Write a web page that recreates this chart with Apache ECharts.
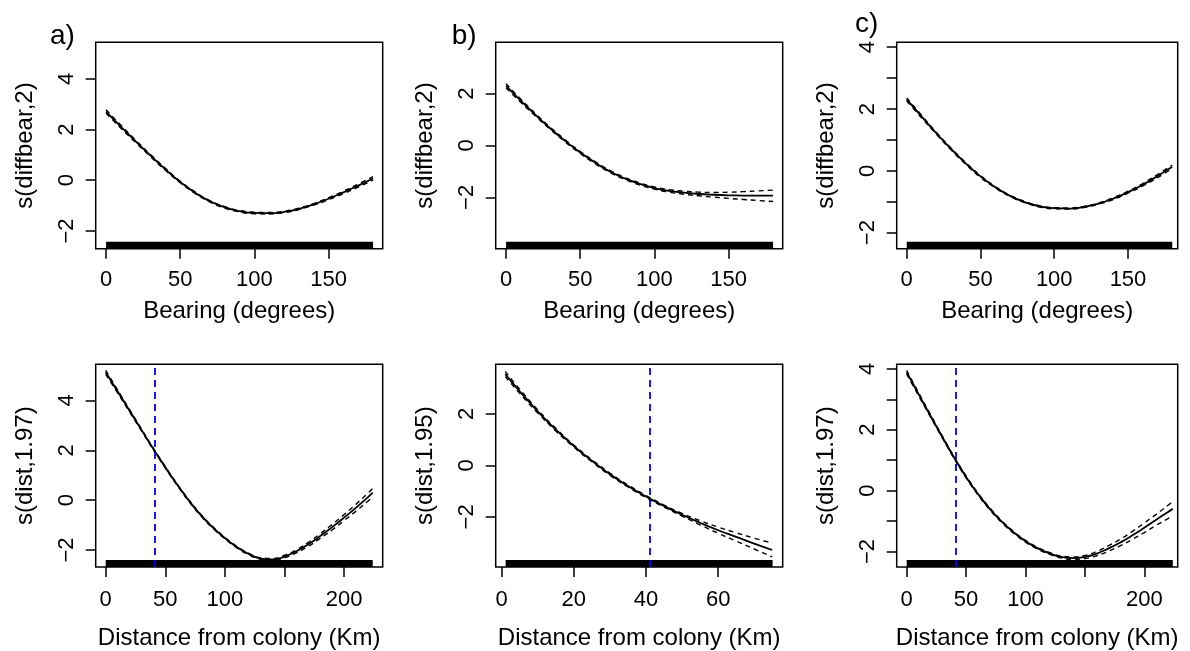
<!DOCTYPE html>
<html><head><meta charset="utf-8">
<script src="https://cdn.jsdelivr.net/npm/echarts@6/dist/echarts.min.js"></script>
<style>html,body{margin:0;padding:0;background:#fff}#c{width:1190px;height:651px}</style>
</head><body><div id="c"></div>
<script>
// ---------- DATA ----------
const bearX = [0,10,20,30,40,50,60,70,80,90,100,110,120,130,140,150,160,170,180];
const aBearFit = [2.71,2.11,1.53,0.97,0.43,-0.07,-0.49,-0.83,-1.07,-1.22,-1.29,-1.30,-1.25,-1.13,-0.95,-0.73,-0.48,-0.21,0.07];
const aBearUp  = [2.78,2.17,1.58,1.01,0.47,-0.04,-0.46,-0.80,-1.04,-1.19,-1.26,-1.27,-1.22,-1.10,-0.92,-0.69,-0.43,-0.15,0.14];
const aBearLo  = [2.64,2.05,1.48,0.93,0.39,-0.10,-0.52,-0.86,-1.10,-1.25,-1.32,-1.33,-1.28,-1.16,-0.98,-0.77,-0.53,-0.27,0.00];
const bBearFit = [2.30,1.72,1.17,0.65,0.17,-0.27,-0.66,-1.00,-1.27,-1.48,-1.64,-1.75,-1.82,-1.87,-1.90,-1.92,-1.93,-1.93,-1.93];
const bBearUp  = [2.38,1.78,1.22,0.69,0.21,-0.23,-0.62,-0.96,-1.23,-1.44,-1.60,-1.70,-1.76,-1.80,-1.81,-1.80,-1.78,-1.75,-1.72];
const bBearLo  = [2.22,1.66,1.12,0.61,0.13,-0.31,-0.70,-1.04,-1.31,-1.52,-1.68,-1.80,-1.88,-1.94,-1.99,-2.04,-2.08,-2.12,-2.16];
const cBearFit = [2.31,1.76,1.22,0.71,0.24,-0.18,-0.53,-0.81,-1.01,-1.15,-1.21,-1.22,-1.17,-1.06,-0.90,-0.69,-0.45,-0.17,0.13];
const cBearUp  = [2.36,1.80,1.25,0.74,0.27,-0.15,-0.51,-0.79,-0.99,-1.13,-1.19,-1.20,-1.15,-1.04,-0.87,-0.66,-0.41,-0.12,0.19];
const cBearLo  = [2.26,1.72,1.19,0.68,0.21,-0.21,-0.55,-0.83,-1.03,-1.17,-1.23,-1.24,-1.19,-1.08,-0.93,-0.72,-0.49,-0.22,0.07];

const aDistX   = [0,10,20,30,40,50,60,70,80,90,100,110,120,130,140,150,160,170,180,190,200,210,220,224];
const aDistFit = [5.13,4.36,3.59,2.82,2.05,1.32,0.62,-0.03,-0.61,-1.10,-1.52,-1.88,-2.16,-2.34,-2.38,-2.26,-2.05,-1.77,-1.44,-1.08,-0.70,-0.30,0.12,0.30];
const aDistUp  = [5.21,4.42,3.64,2.86,2.08,1.35,0.65,0.00,-0.58,-1.07,-1.49,-1.85,-2.13,-2.31,-2.34,-2.21,-1.99,-1.69,-1.35,-0.97,-0.58,-0.16,0.28,0.47];
const aDistLo  = [5.05,4.30,3.54,2.78,2.02,1.29,0.59,-0.06,-0.64,-1.13,-1.55,-1.91,-2.19,-2.37,-2.42,-2.31,-2.11,-1.85,-1.53,-1.19,-0.82,-0.44,-0.04,0.13];

const bDistX   = [1,5,10,15,20,25,30,35,40,45,50,55,60,65,70,75];
const bDistFit = [3.55,2.88,2.10,1.39,0.75,0.18,-0.34,-0.80,-1.21,-1.58,-1.92,-2.23,-2.52,-2.78,-3.04,-3.29];
const bDistUp  = [3.65,2.96,2.16,1.44,0.79,0.22,-0.30,-0.76,-1.17,-1.54,-1.87,-2.15,-2.40,-2.62,-2.83,-3.02];
const bDistLo  = [3.45,2.80,2.04,1.34,0.71,0.14,-0.38,-0.84,-1.25,-1.62,-1.97,-2.31,-2.64,-2.94,-3.25,-3.56];

const cDistX   = [0,10,20,30,40,50,60,70,80,90,100,110,120,130,140,150,160,170,180,190,200,210,220,224];
const cDistFit = [3.89,3.17,2.46,1.76,1.08,0.45,-0.11,-0.60,-1.02,-1.37,-1.66,-1.89,-2.06,-2.18,-2.22,-2.18,-2.07,-1.90,-1.70,-1.47,-1.22,-0.96,-0.70,-0.60];
const cDistUp  = [3.95,3.22,2.50,1.79,1.11,0.48,-0.08,-0.57,-0.99,-1.34,-1.63,-1.86,-2.03,-2.15,-2.18,-2.13,-2.00,-1.81,-1.59,-1.34,-1.06,-0.78,-0.48,-0.36];
const cDistLo  = [3.83,3.12,2.42,1.73,1.05,0.42,-0.14,-0.63,-1.05,-1.40,-1.69,-1.92,-2.09,-2.21,-2.26,-2.23,-2.14,-1.99,-1.81,-1.60,-1.38,-1.14,-0.92,-0.84];

// rug extents (observed covariate range) and reference distance line
const rugBear = [0, 180];
const rugDistA = [0, 224];
const rugDistB = [1.1, 75.1];
const rugDistC = [0, 224];
const refDist = [41.4, 41, 41.2];

// tick / label values
const bearTicks = [0,50,100,150];
const distTicksAC = [0,50,100,150,200];
const distLabelsAC = [0,50,100,200];
const distTicksB = [0,20,40,60];
const yTicksA = [-2,0,2,4];
const yTicksB = [-2,0,2];
const yTicksC = [-2,-1,0,1,2,3,4];
const yLabelsC = [-2,0,2,4];

const xNameBear = 'Bearing (degrees)';
const xNameDist = 'Distance from colony (Km)';
const yNamesTop = ['s(diffbear,2)','s(diffbear,2)','s(diffbear,2)'];
const yNamesBot = ['s(dist,1.97)','s(dist,1.95)','s(dist,1.97)'];
const panelLetters = ['a)','b)','c)'];

// ---------- LAYOUT ----------
const FONT = 'Liberation Sans, Arial, sans-serif';
const zip = (xs, ys) => xs.map((x, i) => [x, ys[i]]);

const panels = [
  {grid:{left:95.7, top:42.3, width:287, height:206.4}, xr:[-7,186.5], yr:[-2.70,5.44],
   x:bearX, fit:aBearFit, up:aBearUp, lo:aBearLo, rug:rugBear, xt:bearTicks, xl:bearTicks, yt:yTicksA, yl:yTicksA,
   xn:xNameBear, yn:yNamesTop[0], ng:51, lm:20},
  {grid:{left:495.7, top:42.3, width:287, height:206.4}, xr:[-7,186.5], yr:[-3.98,3.98],
   x:bearX, fit:bBearFit, up:bBearUp, lo:bBearLo, rug:rugBear, xt:bearTicks, xl:bearTicks, yt:yTicksB, yl:yTicksB,
   xn:xNameBear, yn:yNamesTop[1], ng:51, lm:20},
  {grid:{left:896.7, top:42.3, width:281, height:206.4}, xr:[-6.8,183.7], yr:[-2.52,4.16],
   x:bearX, fit:cBearFit, up:cBearUp, lo:cBearLo, rug:rugBear, xt:bearTicks, xl:bearTicks, yt:yTicksC, yl:yLabelsC,
   xn:xNameBear, yn:yNamesTop[2], ng:51, lm:20},
  {grid:{left:95.7, top:364.3, width:287, height:206.4}, xr:[-8.4,232.4], yr:[-2.68,5.45],
   x:aDistX, fit:aDistFit, up:aDistUp, lo:aDistLo, rug:rugDistA, xt:distTicksAC, xl:distLabelsAC, yt:yTicksA, yl:yTicksA,
   xn:xNameDist, yn:yNamesBot[0], ng:59, lm:22, ref:refDist[0]},
  {grid:{left:495.7, top:364.3, width:287, height:206.4}, xr:[-1.66,77.9], yr:[-3.95,3.93],
   x:bDistX, fit:bDistFit, up:bDistUp, lo:bDistLo, rug:rugDistB, xt:distTicksB, xl:distTicksB, yt:yTicksB, yl:yTicksB,
   xn:xNameDist, yn:yNamesBot[1], ng:59, lm:22, ref:refDist[1]},
  {grid:{left:896.7, top:364.3, width:281, height:206.4}, xr:[-8.4,228.1], yr:[-2.51,4.15],
   x:cDistX, fit:cDistFit, up:cDistUp, lo:cDistLo, rug:rugDistC, xt:distTicksAC, xl:distLabelsAC, yt:yTicksC, yl:yLabelsC,
   xn:xNameDist, yn:yNamesBot[2], ng:59, lm:22, ref:refDist[2]}
];

const minus = v => String(v).replace('-', '\u2212');
const grids = [], xAxes = [], yAxes = [], series = [];
panels.forEach((p, i) => {
  grids.push(Object.assign({show:true, borderColor:'#000', borderWidth:1.5, backgroundColor:'transparent'}, p.grid));
  xAxes.push({type:'value', gridIndex:i, min:p.xr[0], max:p.xr[1],
    axisLine:{show:false, onZero:false}, splitLine:{show:false},
    axisTick:{show:true, inside:false, length:10, lineStyle:{color:'#000', width:1.5}, customValues:p.xt},
    axisLabel:{show:true, customValues:p.xl, margin:p.lm, color:'#000', fontSize:22, fontFamily:FONT, formatter:minus},
    name:p.xn, nameLocation:'middle', nameGap:p.ng, nameTextStyle:{color:'#000', fontSize:24, fontFamily:FONT}});
  yAxes.push({type:'value', gridIndex:i, min:p.yr[0], max:p.yr[1],
    axisLine:{show:false, onZero:false}, splitLine:{show:false},
    axisTick:{show:true, inside:false, length:10, lineStyle:{color:'#000', width:1.5}, customValues:p.yt},
    axisLabel:{show:true, customValues:p.yl, rotate:90, margin:18, color:'#000', fontSize:22, fontFamily:FONT, formatter:minus},
    name:p.yn, nameLocation:'middle', nameRotate:90, nameGap:58, nameTextStyle:{color:'#000', fontSize:24, fontFamily:FONT}});
  const yMin = p.yr[0];
  series.push({type:'custom', xAxisIndex:i, yAxisIndex:i, silent:true, z:1,
    data:[[p.rug[0], p.rug[1], yMin]], encode:{x:[0,1], y:2},
    renderItem:(params, api) => {
      const a = api.coord([api.value(0), api.value(2)]);
      const b = api.coord([api.value(1), api.value(2)]);
      return {type:'rect', shape:{x:a[0], y:a[1]-7, width:b[0]-a[0], height:7}, style:{fill:'#000'}};
    }});
  const fitS = {type:'line', xAxisIndex:i, yAxisIndex:i, data:zip(p.x, p.fit), showSymbol:false, smooth:true,
    lineStyle:{color:'#000', width:1.8}, silent:true, z:3};
  if (p.ref !== undefined) {
    fitS.markLine = {silent:true, symbol:'none', label:{show:false},
      lineStyle:{color:'#0000ff', type:[7,5], width:1.8}, data:[{xAxis:p.ref}]};
  }
  series.push(fitS);
  [p.up, p.lo].forEach(arr => series.push({type:'line', xAxisIndex:i, yAxisIndex:i, data:zip(p.x, arr),
    showSymbol:false, smooth:true, lineStyle:{color:'#000', width:1.4, type:[5,4]}, silent:true, z:2}));
});

const letterPos = [[50,38],[451.7,38],[855,26]];
const graphic = panelLetters.map((t, i) => ({type:'text', left:letterPos[i][0], top:letterPos[i][1]-16,
  style:{text:t, font:'28px ' + FONT, fill:'#000'}}));

const chart = echarts.init(document.getElementById('c'), null, {renderer:'canvas'});
chart.setOption({animation:false, backgroundColor:'#fff', grid:grids, xAxis:xAxes, yAxis:yAxes, series, graphic});
</script></body></html>
